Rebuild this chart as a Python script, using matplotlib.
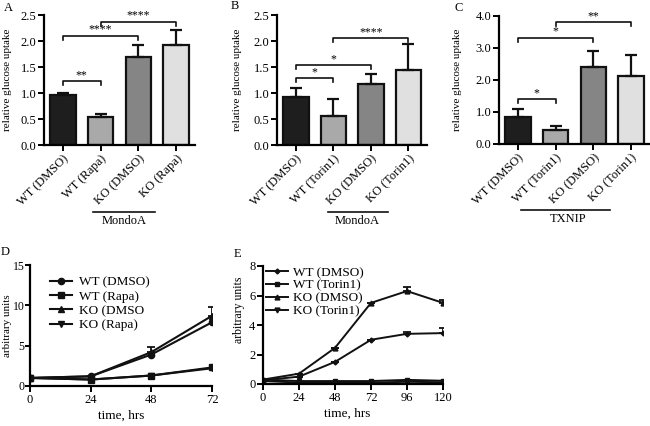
import matplotlib
matplotlib.use("Agg")
import matplotlib.pyplot as plt
import matplotlib.transforms as mtransforms
import numpy as np

plt.rcParams['font.family'] = ['Liberation Serif', 'DejaVu Serif']
plt.rcParams['axes.linewidth'] = 1.6
plt.rcParams['xtick.major.width'] = 1.4
plt.rcParams['ytick.major.width'] = 1.4
plt.rcParams['xtick.major.size'] = 4
plt.rcParams['ytick.major.size'] = 4

# ---- bar panels ----
cats_a = ["WT (DMSO)", "WT (Rapa)", "KO (DMSO)", "KO (Rapa)"]
vals_a = [0.96, 0.54, 1.70, 1.93]
errs_a = [0.04, 0.06, 0.23, 0.29]
sig_a = [(0, 1, 1.23, "**"), (0, 2, 2.10, "****"), (1, 3, 2.37, "****")]

cats_b = ["WT (DMSO)", "WT (Torin1)", "KO (DMSO)", "KO (Torin1)"]
vals_b = [0.93, 0.55, 1.17, 1.44]
errs_b = [0.16, 0.33, 0.20, 0.50]
sig_b = [(0, 1, 1.29, "*"), (0, 2, 1.54, "*"), (1, 3, 2.06, "****")]

cats_c = ["WT (DMSO)", "WT (Torin1)", "KO (DMSO)", "KO (Torin1)"]
vals_c = [0.83, 0.45, 2.40, 2.12]
errs_c = [0.27, 0.12, 0.52, 0.65]
sig_c = [(0, 1, 1.40, "*"), (0, 2, 3.32, "*"), (1, 3, 3.81, "**")]

bar_colors = ["#1e1e1e", "#a9a9a9", "#858585", "#e0e0e0"]

# ---- line panels ----
time_d = [0, 24, 48, 72]
d_wt_dmso = [1.0, 1.2, 3.9, 7.9]
d_wt_rapa = [1.0, 0.8, 1.3, 2.3]
d_ko_dmso = [1.0, 1.2, 4.2, 8.7]
d_ko_rapa = [1.0, 0.8, 1.3, 2.2]
d_ko_dmso_err = [0, 0, 0.6, 1.1]

time_e = [0, 24, 48, 72, 96, 120]
e_wt_dmso = [0.25, 0.5, 1.5, 3.0, 3.4, 3.45]
e_wt_torin = [0.3, 0.2, 0.2, 0.2, 0.28, 0.22]
e_ko_dmso = [0.3, 0.7, 2.45, 5.5, 6.3, 5.5]
e_ko_torin = [0.2, 0.1, 0.1, 0.1, 0.15, 0.12]
e_wt_dmso_err = [0, 0, 0, 0, 0.15, 0.35]
e_ko_dmso_err = [0, 0, 0, 0, 0.3, 0.2]

W, H = 650, 426
fig = plt.figure(figsize=(6.5, 4.26), dpi=100)


def px_axes(left, right, top, bottom):
    return fig.add_axes([left / W, 1 - bottom / H, (right - left) / W, (bottom - top) / H])


def style(ax):
    ax.spines['top'].set_visible(False)
    ax.spines['right'].set_visible(False)
    ax.tick_params(labelsize=9, pad=1.5)


def bar_panel(ax, cats, vals, errs, sigs, ymax, ystep, group, gx0, gx1, gtx, tick_h):
    x = np.arange(len(cats))
    ax.bar(x, vals, width=0.68, color=bar_colors, edgecolor="#111111", linewidth=1.6,
           yerr=[np.zeros(len(errs)), errs], capsize=4,
           error_kw=dict(elinewidth=1.6, capthick=1.6, ecolor="#111111"))
    ax.set_xlim(-0.5, 3.5)
    ax.set_ylim(0, ymax)
    ticks = np.arange(0, ymax + 0.001, ystep)
    ax.set_yticks(ticks)
    ax.set_yticklabels(["{:.1f}".format(v) for v in ticks])
    ax.set_xticks(x)
    ax.set_xticklabels(cats, rotation=45, ha='right', rotation_mode='anchor', fontsize=9.5)
    ax.set_ylabel("relative glucose uptake", fontsize=8)
    style(ax)
    for i, j, y, s in sigs:
        ax.plot([i, i, j, j], [y - tick_h, y, y, y - tick_h], color="#111111", lw=1.2)
        ax.text((i + j) / 2, y, s, ha='center', va='bottom', fontsize=8.5)
    trans = mtransforms.blended_transform_factory(ax.transData, ax.transAxes)
    ax.plot([gx0, gx1], [-0.515, -0.515], transform=trans, color="#111111", lw=1.2, clip_on=False)
    ax.text(gtx, -0.585, group, transform=trans, ha='center', va='center', fontsize=9)


ax_a = px_axes(44, 195, 15, 145)
bar_panel(ax_a, cats_a, vals_a, errs_a, sig_a, 2.5, 0.5, "MondoA", 0.80, 2.43, 1.62, 0.08)
ax_a.yaxis.set_label_coords(-0.21, 0.5)

ax_b = px_axes(277, 427, 15, 145)
bar_panel(ax_b, cats_b, vals_b, errs_b, sig_b, 2.5, 0.5, "MondoA", 0.86, 2.46, 1.64, 0.08)
ax_b.yaxis.set_label_coords(-0.23, 0.5)

ax_c = px_axes(499, 650, 16, 144)
bar_panel(ax_c, cats_c, vals_c, errs_c, sig_c, 4.0, 1.0, "TXNIP", 0.07, 2.43, 1.33, 0.12)
ax_c.yaxis.set_label_coords(-0.245, 0.5)

# ---- panel D ----
ax_d = px_axes(30, 212, 265, 386)
kw = dict(color="#111111", lw=1.5, markersize=4.5)
ax_d.plot(time_d, d_wt_dmso, marker='o', label="WT (DMSO)", **kw)
ax_d.plot(time_d, d_wt_rapa, marker='s', label="WT (Rapa)", **kw)
ax_d.plot(time_d, d_ko_dmso, marker='^', label="KO (DMSO", **kw)
ax_d.plot(time_d, d_ko_rapa, marker='v', label="KO (Rapa)", **kw)
ax_d.errorbar(time_d, d_ko_dmso, yerr=[np.zeros(4), d_ko_dmso_err], fmt='none',
              ecolor="#111111", capsize=3, elinewidth=1.3, capthick=1.3)
ax_d.set_xlim(0, 72)
ax_d.set_ylim(0, 15)
ax_d.set_xticks(time_d)
ax_d.set_yticks([0, 5, 10, 15])
ax_d.set_xlabel("time, hrs", fontsize=9.5)
style(ax_d)
ax_d.tick_params(axis='y', pad=0.5, length=3.5, labelsize=8.5)
ax_d.set_ylabel("arbitrary units", fontsize=8)
ax_d.yaxis.set_label_coords(-0.1, 0.5)
ax_d.xaxis.set_label_coords(0.5, -0.2)
ax_d.legend(loc='upper left', bbox_to_anchor=(0.08, 0.95), frameon=False, fontsize=9.5,
            handlelength=1.7, handletextpad=0.5, labelspacing=0.15, borderaxespad=0)

# ---- panel E ----
ax_e = px_axes(263, 443, 266, 384)
kw = dict(color="#111111", lw=1.4, markersize=3.5)
ax_e.plot(time_e, e_wt_dmso, marker='D', markersize=2.5, color="#111111", lw=1.4, label="WT (DMSO)")
ax_e.plot(time_e, e_wt_torin, marker='s', label="WT (Torin1)", **kw)
ax_e.plot(time_e, e_ko_dmso, marker='^', label="KO (DMSO)", **kw)
ax_e.plot(time_e, e_ko_torin, marker='v', label="KO (Torin1)", **kw)
ax_e.errorbar(time_e, e_wt_dmso, yerr=[np.zeros(6), e_wt_dmso_err], fmt='none',
              ecolor="#111111", capsize=3, elinewidth=1.3, capthick=1.3)
ax_e.errorbar(time_e, e_ko_dmso, yerr=[np.zeros(6), e_ko_dmso_err], fmt='none',
              ecolor="#111111", capsize=3, elinewidth=1.3, capthick=1.3)
ax_e.set_xlim(0, 120)
ax_e.set_ylim(0, 8)
ax_e.set_xticks(time_e)
ax_e.set_yticks([0, 2, 4, 6, 8])
ax_e.set_ylabel("arbitrary units", fontsize=8.5)
ax_e.set_xlabel("time, hrs", fontsize=9.5)
ax_e.yaxis.set_label_coords(-0.1, 0.63)
ax_e.xaxis.set_label_coords(0.47, -0.2)
style(ax_e)
ax_e.legend(loc='upper left', bbox_to_anchor=(-0.015, 1.04), frameon=False, fontsize=9.5,
            handlelength=1.7, handletextpad=0.4, labelspacing=0.05, borderaxespad=0)

# panel letters
for lab, px, py in [("A", 8, 8), ("B", 235, 6), ("C", 459, 8), ("D", 5, 252), ("E", 237, 254)]:
    fig.text(px / W, 1 - py / H, lab, ha='center', va='center', fontsize=9)

fig.savefig("out.png", dpi=100)
